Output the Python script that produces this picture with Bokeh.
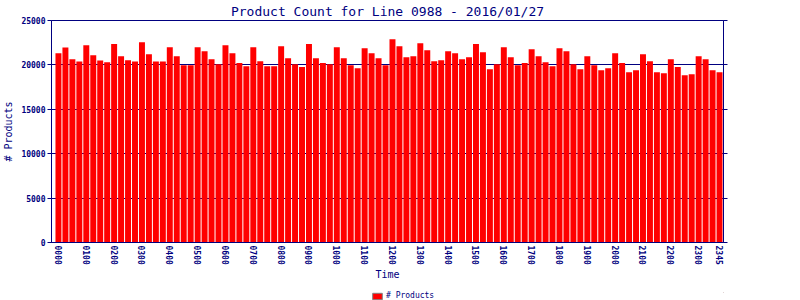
from bokeh.plotting import figure
from bokeh.layouts import column
from bokeh.models import Range1d, FixedTicker, LinearAxis, Legend, LegendItem, ColumnDataSource
from bokeh.embed import file_html
from bokeh.resources import INLINE

times = [
    "0000", "0015", "0030", "0045", "0100", "0115", "0130", "0145",
    "0200", "0215", "0230", "0245", "0300", "0315", "0330", "0345",
    "0400", "0415", "0430", "0445", "0500", "0515", "0530", "0545",
    "0600", "0615", "0630", "0645", "0700", "0715", "0730", "0745",
    "0800", "0815", "0830", "0845", "0900", "0915", "0930", "0945",
    "1000", "1015", "1030", "1045", "1100", "1115", "1130", "1145",
    "1200", "1215", "1230", "1245", "1300", "1315", "1330", "1345",
    "1400", "1415", "1430", "1445", "1500", "1515", "1530", "1545",
    "1600", "1615", "1630", "1645", "1700", "1715", "1730", "1745",
    "1800", "1815", "1830", "1845", "1900", "1915", "1930", "1945",
    "2000", "2015", "2030", "2045", "2100", "2115", "2130", "2145",
    "2200", "2215", "2230", "2245", "2300", "2315", "2330", "2345",
]

counts = [
    21320, 21960, 20650, 20380, 22220, 21100, 20500, 20310,
    22340, 20980, 20530, 20380, 22560, 21210, 20380, 20380,
    22000, 20980, 19970, 19970, 22000, 21550, 20650, 20080,
    22220, 21320, 20200, 19860, 22000, 20420, 19860, 19860,
    22110, 20760, 20080, 19750, 22340, 20760, 20200, 20080,
    22000, 20760, 19970, 19630, 21880, 21320, 20760, 19970,
    22900, 22110, 20870, 20980, 22450, 21660, 20420, 20530,
    21550, 21320, 20650, 20870, 22340, 21430, 19520, 20080,
    22000, 20870, 19970, 20200, 21770, 20980, 20310, 19860,
    21880, 21550, 20080, 19520, 20980, 19970, 19410, 19630,
    21320, 20200, 19180, 19410, 21210, 20420, 19180, 19070,
    20650, 19750, 18840, 18960, 20980, 20650, 19410, 19180,
]

tick_labels = [
    "0000", "0100", "0200", "0300", "0400", "0500", "0600", "0700",
    "0800", "0900", "1000", "1100", "1200", "1300", "1400", "1500",
    "1600", "1700", "1800", "1900", "2000", "2100", "2200", "2300", "2345",
]

y_ticks = [0, 5000, 10000, 15000, 20000, 25000]

NAVY = "#000080"
FONT = "DejaVu Sans Mono"

x_idx = list(range(len(times)))
src = ColumnDataSource(dict(x=x_idx, top=counts, t=times))

p = figure(width=800, height=290, output_backend="svg", toolbar_location=None,
           x_range=Range1d(-1, 95.57), y_range=Range1d(0, 25000),
           min_border_left=47, min_border_right=77, min_border_top=20, min_border_bottom=48)

p.title.text = "Product Count for Line 0988 - 2016/01/27"
p.title.align = "center"
p.title.vertical_align = "top"
p.title.text_font = FONT
p.title.text_font_size = "13px"
p.title.text_font_style = "normal"
p.title.text_color = NAVY
p.title.offset = 0
p.title.standoff = 0

p.vbar(x="x", top="top", width=6/7, source=src, fill_color="#ff0000", line_color=None)

p.outline_line_color = NAVY
p.outline_line_width = 1

p.xgrid.grid_line_color = None
p.ygrid.grid_line_color = NAVY
p.ygrid.grid_line_width = 1
p.ygrid.ticker = FixedTicker(ticks=y_ticks)

pos = [times.index(t) for t in tick_labels]
p.xaxis.ticker = FixedTicker(ticks=pos)
p.xaxis.major_label_overrides = {pp: t for pp, t in zip(pos, tick_labels)}
p.xaxis.major_label_orientation = "vertical"
p.xaxis.major_tick_line_color = None
p.xaxis.major_tick_in = 0
p.xaxis.major_tick_out = 0
p.xaxis.minor_tick_line_color = None
p.xaxis.axis_line_color = NAVY
p.xaxis.major_label_text_font = FONT
p.xaxis.major_label_text_font_size = "8px"
p.xaxis.major_label_text_font_style = "bold"
p.xaxis.major_label_text_color = NAVY
p.xaxis.major_label_standoff = 3
p.xaxis.axis_label = "Time"
p.xaxis.axis_label_text_font = FONT
p.xaxis.axis_label_text_font_size = "10px"
p.xaxis.axis_label_text_font_style = "normal"
p.xaxis.axis_label_text_color = NAVY
p.xaxis.axis_label_standoff = 1

p.yaxis.ticker = FixedTicker(ticks=y_ticks)
p.yaxis.minor_tick_line_color = None
p.yaxis.major_tick_in = 0
p.yaxis.major_tick_out = 4
p.yaxis.major_tick_line_color = NAVY
p.yaxis.axis_line_color = NAVY
p.yaxis.major_label_text_font = FONT
p.yaxis.major_label_text_font_size = "8px"
p.yaxis.major_label_text_font_style = "bold"
p.yaxis.major_label_text_color = NAVY
p.yaxis.major_label_standoff = 2
p.yaxis.axis_label = "# Products"
p.yaxis.axis_label_text_font = FONT
p.yaxis.axis_label_text_font_size = "10px"
p.yaxis.axis_label_text_font_style = "normal"
p.yaxis.axis_label_text_color = NAVY
p.yaxis.axis_label_standoff = 4

ry = LinearAxis(ticker=FixedTicker(ticks=y_ticks))
ry.major_tick_in = 0
ry.major_tick_out = 4
ry.major_tick_line_color = NAVY
ry.minor_tick_line_color = None
ry.axis_line_color = NAVY
ry.major_label_text_color = None
ry.major_label_text_font_size = "1px"
p.add_layout(ry, "right")

# legend strip below the chart
lg = figure(width=800, height=10, output_backend="svg", toolbar_location=None,
            x_range=Range1d(0, 1), y_range=Range1d(0, 1),
            x_axis_type=None, y_axis_type=None,
            min_border_left=0, min_border_right=0, min_border_top=0, min_border_bottom=0)
lg.outline_line_color = None
lg.xgrid.grid_line_color = None
lg.ygrid.grid_line_color = None
# swatch renderer kept outside the visible range; only its legend glyph shows
swatch = lg.vbar(x=[5], top=[5], bottom=[4], width=0.5, fill_color="#ff0000", line_color="#808080")

legend = Legend(items=[LegendItem(label="# Products", renderers=[swatch])],
                location=(320, 0), orientation="horizontal",
                glyph_width=12, glyph_height=8, label_text_font=FONT,
                label_text_font_size="8px", label_text_font_style="normal",
                label_text_color=NAVY, background_fill_alpha=0,
                border_line_color=None, padding=0, margin=0, spacing=0,
                label_standoff=3, label_height=8, label_width=10,
                label_text_baseline="middle")
lg.add_layout(legend, "center")

layout = column(p, lg, spacing=0)
open("out.html", "w").write(file_html(layout, INLINE))
